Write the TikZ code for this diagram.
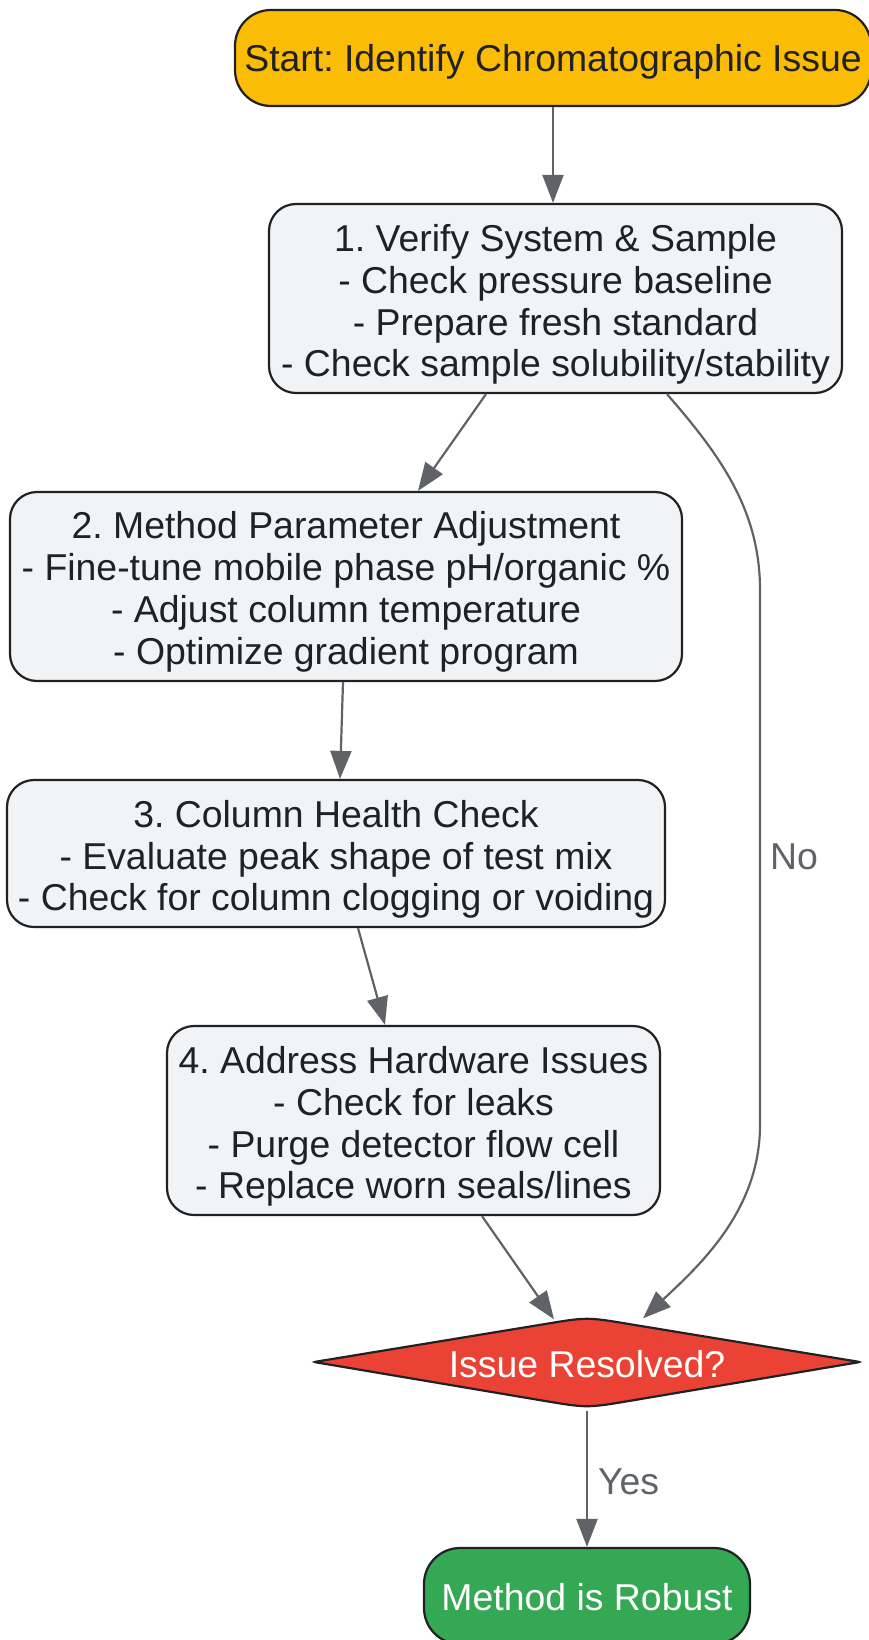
\documentclass[tikz,border=0pt]{standalone}
\usepackage{fontspec}
\setmainfont{Liberation Sans}
\usetikzlibrary{arrows.meta}
\definecolor{txt}{HTML}{202124}
\definecolor{edge}{HTML}{5F6368}
\definecolor{boxfill}{HTML}{F1F3F4}
\definecolor{startfill}{HTML}{FBBC05}
\definecolor{decfill}{HTML}{EA4335}
\definecolor{endfill}{HTML}{34A853}
\frenchspacing
\begin{document}
\begin{tikzpicture}[x=1pt,y=-1pt,
  font=\fontsize{37.4}{41.8}\selectfont\frenchspacing,
  stepbox/.style={draw=txt, line width=2.2pt, fill=boxfill, rounded corners=27pt,
    inner sep=0pt},
  boxtext/.style={align=center, inner sep=0pt, text=txt},
  termbox/.style={draw=txt, line width=2.2pt, rounded corners=36pt,
    align=center, inner sep=0pt},
  arr/.style={draw=edge, line width=2.2pt, -{Triangle[length=28pt,width=21pt]}},
  lbl/.style={text=edge, inner sep=0pt}]
\useasboundingbox (0,0) rectangle (868,1640);

\node[termbox, fill=startfill, minimum width=636pt, minimum height=96pt]
  (start) at (553,58) {};
\node[boxtext] (startt) at ([yshift=-3.5pt]start.center) {Start: Identify Chromatographic Issue};

\node[stepbox, minimum width=573pt, minimum height=189pt] (b1) at (555.5,298.5) {};
\node[boxtext] (b1t) at ([yshift=-6pt]b1.center)
  {1. Verify System \& Sample\\- Check pressure baseline\\- Prepare fresh standard\\- Check sample solubility/stability};

\node[stepbox, minimum width=672pt, minimum height=189pt] (b2) at (346,586.5) {};
\node[boxtext] (b2t) at ([yshift=-5.5pt]b2.center)
  {2. Method Parameter Adjustment\\- Fine-tune mobile phase pH/organic \%\\- Adjust column temperature\\- Optimize gradient program};

\node[stepbox, minimum width=658pt, minimum height=147pt] (b3) at (336,853.5) {};
\node[boxtext] (b3t) at ([yshift=-6pt]b3.center)
  {3. Column Health Check\\- Evaluate peak shape of test mix\\- Check for column clogging or voiding};

\node[stepbox, minimum width=493pt, minimum height=189pt] (b4) at (413.5,1120.5) {};
\node[boxtext] (b4t) at ([yshift=-6pt]b4.center)
  {4. Address Hardware Issues\\- Check for leaks\\- Purge detector flow cell\\- Replace worn seals/lines};

% decision diamond
\draw[draw=txt, line width=2.2pt, fill=decfill]
  (320,1361) -- (544,1324.2) .. controls (587,1317) .. (630,1324.2)
  -- (854,1361) .. controls (860.5,1362) .. (854,1363)
  -- (630,1400.8) .. controls (587,1408) .. (544,1400.8)
  -- (320,1363) .. controls (313.5,1362) .. cycle;
\node[minimum width=546pt, minimum height=91pt, inner sep=0pt, text=white]
  (dec) at (587,1362) {};
\node[boxtext, text=white] (dect) at ([yshift=-2pt]dec.center) {Issue Resolved?};

\node[termbox, fill=endfill, minimum width=326pt, minimum height=96pt]
  (end) at (587,1596) {};
\node[boxtext, text=white] (endt) at ([yshift=-1pt]end.center) {Method is Robust};

% connectors
\draw[arr] (start.south) -- (start.south |- b1.north);
\draw[arr] ([xshift=-69.5pt]b1.south) -- ([xshift=72pt]b2.north);
\draw[arr] ([xshift=-3pt]b2.south) -- ([xshift=4pt]b3.north);
\draw[arr] ([xshift=22pt]b3.south) -- ([xshift=-28.5pt]b4.north);
\draw[arr] ([xshift=68.5pt]b4.south) -- ([xshift=-33pt,yshift=-3pt]dec.north);
\draw[arr] ([xshift=111.5pt]b1.south) .. controls (720,455) and (760,510) .. (760,590)
  -- (760,1125) .. controls (760,1210) and (700,1265) .. ([xshift=56pt,yshift=-2pt]dec.north);
\node[lbl, anchor=west] (nolbl) at (770,857) {No};
\draw[arr] ([yshift=-3pt]dec.south) -- (end.north)
  node[midway, lbl, anchor=west, xshift=10pt, yshift=-3pt] (yeslbl) {Yes};
\end{tikzpicture}
\end{document}
